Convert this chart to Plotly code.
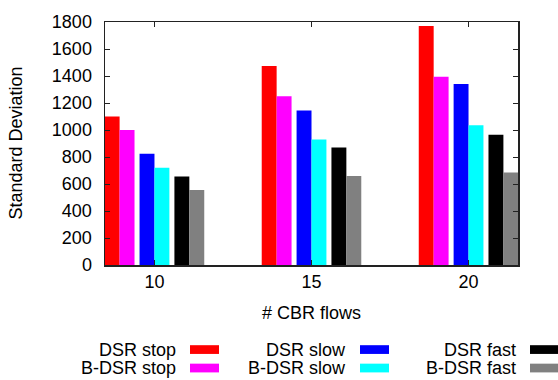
import plotly.graph_objects as go

categories = ["10", "15", "20"]
series_names = ["DSR stop", "B-DSR stop", "DSR slow", "B-DSR slow", "DSR fast", "B-DSR fast"]
dsr_stop = [1100, 1475, 1770]
bdsr_stop = [1000, 1250, 1395]
dsr_slow = [825, 1145, 1340]
bdsr_slow = [720, 930, 1035]
dsr_fast = [655, 870, 965]
bdsr_fast = [555, 660, 685]
y_ticks = [0, 200, 400, 600, 800, 1000, 1200, 1400, 1600, 1800]

series_values = [dsr_stop, bdsr_stop, dsr_slow, bdsr_slow, dsr_fast, bdsr_fast]
colors = ["#ff0000", "#ff00ff", "#0000ff", "#00ffff", "#000000", "#808080"]
offsets = [-0.317, -0.222, -0.095, 0.0, 0.127, 0.222]
bar_w = 0.095

FONT = "Liberation Sans, Arial, Helvetica, sans-serif"
W, H = 558, 380
L, T = 105, 15
PW, PH = 413, 250
R, B = W - L - PW, H - T - PH

def px_to_paper(px, py):
    return (px - L) / PW, (T + PH - py) / PH

fig = go.Figure()
for name, vals, col, off in zip(series_names, series_values, colors, offsets):
    fig.add_trace(go.Bar(
        x=categories, y=vals, name=name, offset=off, width=bar_w,
        marker=dict(color=col, line=dict(width=0)), showlegend=False,
    ))

axis_common = dict(
    showline=True, linecolor="#222", linewidth=1.5, mirror="ticks",
    ticks="inside", ticklen=5, tickcolor="#222", tickwidth=1,
    showgrid=False, zeroline=False, ticklabeloverflow="allow",
    tickfont=dict(family=FONT, size=18, color="#000"),
)

fig.update_layout(
    width=W, height=H,
    margin=dict(l=L, r=R, t=T, b=B, pad=0),
    paper_bgcolor="white", plot_bgcolor="white",
    barmode="overlay",
    font=dict(family=FONT, size=18, color="#000"),
    xaxis=dict(type="category", categoryorder="array", categoryarray=categories,
               range=[-0.315, 2.315], ticklabelstandoff=0, **axis_common),
    yaxis=dict(range=[0, 1800], tickvals=y_ticks, ticklabelstandoff=8, **axis_common),
)

annotations = [
    dict(text="# CBR flows", xref="paper", yref="paper", x=0.5, y=0, yshift=-48,
         xanchor="center", yanchor="middle", showarrow=False,
         font=dict(family=FONT, size=18, color="#000")),
    dict(text="Standard Deviation", xref="paper", yref="paper", x=0, y=0.5, xshift=-90,
         xanchor="center", yanchor="middle", textangle=-90, showarrow=False,
         font=dict(family=FONT, size=18, color="#000")),
]
shapes = []
col_text_right = [178, 348, 518]
row_y = [352, 371]
for i, (name, col) in enumerate(zip(series_names, colors)):
    c, r = i // 2, i % 2
    tx, ty = px_to_paper(col_text_right[c], row_y[r])
    annotations.append(dict(text=name, xref="paper", yref="paper", x=tx, y=ty,
                            xanchor="right", yanchor="middle", showarrow=False,
                            font=dict(family=FONT, size=18, color="#000")))
    x0, y0 = px_to_paper(col_text_right[c] + 12, row_y[r] + 4.5)
    x1, y1 = px_to_paper(col_text_right[c] + 41, row_y[r] - 4.5)
    shapes.append(dict(type="rect", xref="paper", yref="paper", x0=x0, x1=x1, y0=y0, y1=y1,
                       fillcolor=col, line=dict(width=0)))
fig.update_layout(annotations=annotations, shapes=shapes)

fig.write_html("out.html",
               config={"displayModeBar": False, "staticPlot": True},
               post_script="document.body.style.margin='0';document.body.style.overflow='hidden';")
